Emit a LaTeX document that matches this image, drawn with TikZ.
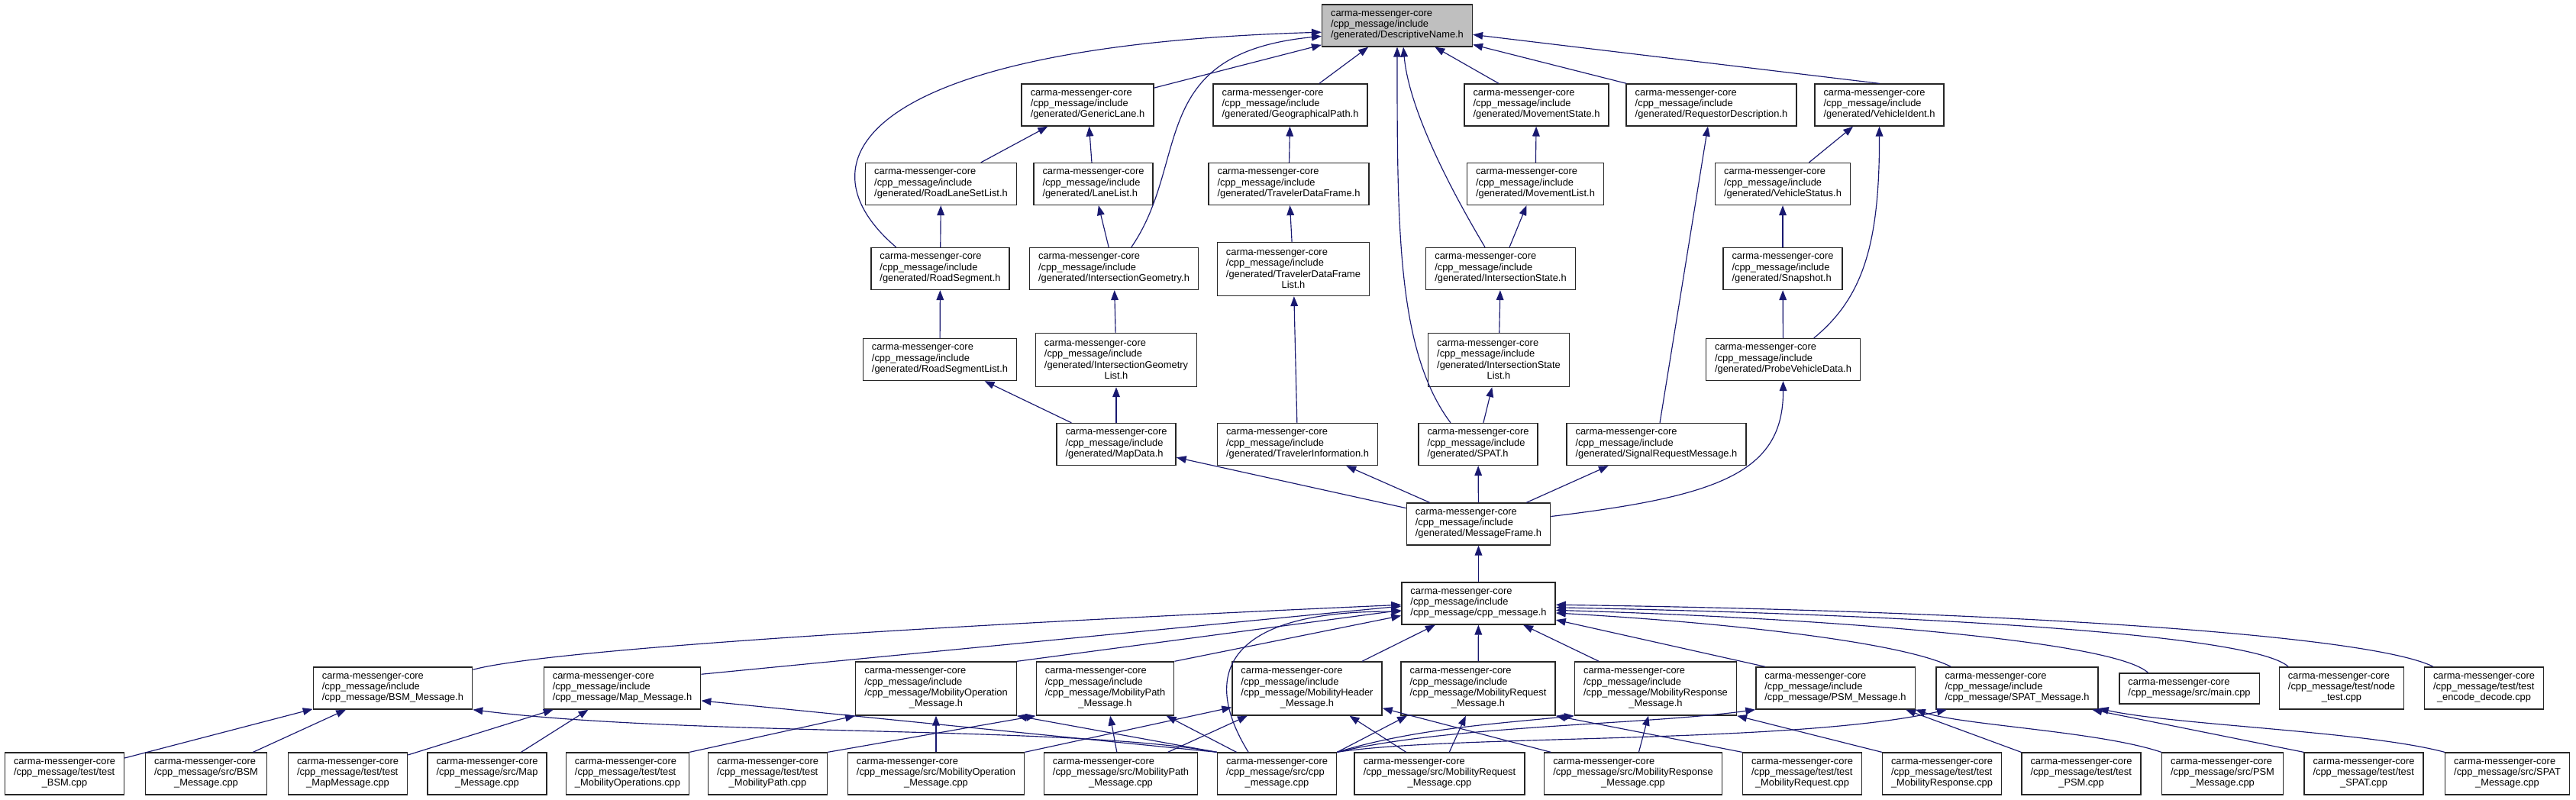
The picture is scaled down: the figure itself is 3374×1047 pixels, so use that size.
\documentclass[tikz,border=0pt]{standalone}
\usepackage{fontspec}
\setmainfont{Liberation Sans}
\usepackage{xcolor}
\usepackage{tikz}
\usetikzlibrary{arrows.meta}
\definecolor{edgeblue}{HTML}{191970}

\begin{document}
\begin{tikzpicture}[
    x=0.7772pt, y=-0.7772pt,
    hdr/.style={draw=black!85, line width=1.1pt, fill=white, align=left, inner xsep=9pt, inner ysep=2pt, minimum height=42.7pt, font=\fontsize{10pt}{11.1pt}\selectfont},
    hdrtall/.style={hdr, minimum height=54.4pt},
    hdrshort/.style={hdr, minimum height=31.1pt},
    focus/.style={hdr, fill=gray!50},
    incl/.style={-{Triangle[length=10pt, width=7.5pt]}, draw=edgeblue, line width=0.9pt}
]
\fill[white] (0,0) rectangle (3374,1047);
\useasboundingbox (0,0) rectangle (3374,1047);

% generated headers
\node[focus] (dn) at (1830,33.5) {carma-messenger-core\\/cpp\_message/include\\/generated/DescriptiveName.h};
\node[hdr] (genericlane) at (1424.5,137.5) {carma-messenger-core\\/cpp\_message/include\\/generated/GenericLane.h};
\node[hdr] (geopath) at (1690,137.5) {carma-messenger-core\\/cpp\_message/include\\/generated/GeographicalPath.h};
\node[hdr] (movestate) at (2012.5,137.5) {carma-messenger-core\\/cpp\_message/include\\/generated/MovementState.h};
\node[hdr] (reqdesc) at (2241.5,137.5) {carma-messenger-core\\/cpp\_message/include\\/generated/RequestorDescription.h};
\node[hdr] (vehident) at (2461.5,137.5) {carma-messenger-core\\/cpp\_message/include\\/generated/VehicleIdent.h};
\node[hdr] (roadlaneset) at (1232.5,241) {carma-messenger-core\\/cpp\_message/include\\/generated/RoadLaneSetList.h};
\node[hdr] (lanelist) at (1432,241) {carma-messenger-core\\/cpp\_message/include\\/generated/LaneList.h};
\node[hdr] (travdf) at (1688,241) {carma-messenger-core\\/cpp\_message/include\\/generated/TravelerDataFrame.h};
\node[hdr] (movelist) at (2011,241) {carma-messenger-core\\/cpp\_message/include\\/generated/MovementList.h};
\node[hdr] (vehstatus) at (2335,241) {carma-messenger-core\\/cpp\_message/include\\/generated/VehicleStatus.h};
\node[hdr] (roadseg) at (1231.5,352) {carma-messenger-core\\/cpp\_message/include\\/generated/RoadSegment.h};
\node[hdr] (intgeom) at (1459,352) {carma-messenger-core\\/cpp\_message/include\\/generated/IntersectionGeometry.h};
\node[hdrtall] (travdflist) at (1694,352.5) {carma-messenger-core\\/cpp\_message/include\\/generated/TravelerDataFrame\\\hfill List.h\hfill\null};
\node[hdr] (intstate) at (1965.5,352) {carma-messenger-core\\/cpp\_message/include\\/generated/IntersectionState.h};
\node[hdr] (snapshot) at (2335,352) {carma-messenger-core\\/cpp\_message/include\\/generated/Snapshot.h};
\node[hdr] (roadseglist) at (1231,471) {carma-messenger-core\\/cpp\_message/include\\/generated/RoadSegmentList.h};
\node[hdrtall] (intgeomlist) at (1462,471.5) {carma-messenger-core\\/cpp\_message/include\\/generated/IntersectionGeometry\\\hfill List.h\hfill\null};
\node[hdrtall] (intstatelist) at (1963,471.5) {carma-messenger-core\\/cpp\_message/include\\/generated/IntersectionState\\\hfill List.h\hfill\null};
\node[hdr] (probe) at (2335.5,471) {carma-messenger-core\\/cpp\_message/include\\/generated/ProbeVehicleData.h};
\node[hdr] (mapdata) at (1462,582) {carma-messenger-core\\/cpp\_message/include\\/generated/MapData.h};
\node[hdr] (travinfo) at (1699.5,582) {carma-messenger-core\\/cpp\_message/include\\/generated/TravelerInformation.h};
\node[hdr] (spat) at (1936,582) {carma-messenger-core\\/cpp\_message/include\\/generated/SPAT.h};
\node[hdr] (sigreq) at (2169.5,582) {carma-messenger-core\\/cpp\_message/include\\/generated/SignalRequestMessage.h};
\node[hdr] (msgframe) at (1936.5,686.5) {carma-messenger-core\\/cpp\_message/include\\/generated/MessageFrame.h};
\node[hdr] (cpph) at (1936.5,790.5) {carma-messenger-core\\/cpp\_message/include\\/cpp\_message/cpp\_message.h};

% message headers
\node[hdr] (bsmh) at (514.5,901.5) {carma-messenger-core\\/cpp\_message/include\\/cpp\_message/BSM\_Message.h};
\node[hdr] (maph) at (815,901.5) {carma-messenger-core\\/cpp\_message/include\\/cpp\_message/Map\_Message.h};
\node[hdrtall] (mobopsh) at (1226,902) {carma-messenger-core\\/cpp\_message/include\\/cpp\_message/MobilityOperation\\\hfill\_Message.h\hfill\null};
\node[hdrtall] (mobpathh) at (1447.5,902) {carma-messenger-core\\/cpp\_message/include\\/cpp\_message/MobilityPath\\\hfill\_Message.h\hfill\null};
\node[hdrtall] (mobheadh) at (1712,902) {carma-messenger-core\\/cpp\_message/include\\/cpp\_message/MobilityHeader\\\hfill\_Message.h\hfill\null};
\node[hdrtall] (mobreqh) at (1936,902) {carma-messenger-core\\/cpp\_message/include\\/cpp\_message/MobilityRequest\\\hfill\_Message.h\hfill\null};
\node[hdrtall] (mobresph) at (2168.5,902) {carma-messenger-core\\/cpp\_message/include\\/cpp\_message/MobilityResponse\\\hfill\_Message.h\hfill\null};
\node[hdr] (psmh) at (2404,901.5) {carma-messenger-core\\/cpp\_message/include\\/cpp\_message/PSM\_Message.h};
\node[hdr] (spath) at (2642,901.5) {carma-messenger-core\\/cpp\_message/include\\/cpp\_message/SPAT\_Message.h};
\node[hdrshort] (maincpp) at (2867.5,902) {carma-messenger-core\\/cpp\_message/src/main.cpp};
\node[hdr] (nodetest) at (3067,901.5) {carma-messenger-core\\/cpp\_message/test/node\\\hfill\_test.cpp\hfill\null};
\node[hdr] (encdec) at (3253.5,901.5) {carma-messenger-core\\/cpp\_message/test/test\\\hfill\_encode\_decode.cpp\hfill\null};

% sources and tests
\node[hdr] (testbsm) at (84.5,1013.5) {carma-messenger-core\\/cpp\_message/test/test\\\hfill\_BSM.cpp\hfill\null};
\node[hdr] (bsmcpp) at (270,1013.5) {carma-messenger-core\\/cpp\_message/src/BSM\\\hfill\_Message.cpp\hfill\null};
\node[hdr] (testmap) at (455.5,1013.5) {carma-messenger-core\\/cpp\_message/test/test\\\hfill\_MapMessage.cpp\hfill\null};
\node[hdr] (mapcpp) at (638,1013.5) {carma-messenger-core\\/cpp\_message/src/Map\\\hfill\_Message.cpp\hfill\null};
\node[hdr] (testmobops) at (822,1013.5) {carma-messenger-core\\/cpp\_message/test/test\\\hfill\_MobilityOperations.cpp\hfill\null};
\node[hdr] (testmobpath) at (1005.5,1013.5) {carma-messenger-core\\/cpp\_message/test/test\\\hfill\_MobilityPath.cpp\hfill\null};
\node[hdr] (mobopscpp) at (1226,1013.5) {carma-messenger-core\\/cpp\_message/src/MobilityOperation\\\hfill\_Message.cpp\hfill\null};
\node[hdr] (mobpathcpp) at (1468,1013.5) {carma-messenger-core\\/cpp\_message/src/MobilityPath\\\hfill\_Message.cpp\hfill\null};
\node[hdr] (cppcpp) at (1672.5,1013.5) {carma-messenger-core\\/cpp\_message/src/cpp\\\hfill\_message.cpp\hfill\null};
\node[hdr] (mobreqcpp) at (1885.5,1013.5) {carma-messenger-core\\/cpp\_message/src/MobilityRequest\\\hfill\_Message.cpp\hfill\null};
\node[hdr] (mobrespcpp) at (2139,1013.5) {carma-messenger-core\\/cpp\_message/src/MobilityResponse\\\hfill\_Message.cpp\hfill\null};
\node[hdr] (testmobreq) at (2360.5,1013.5) {carma-messenger-core\\/cpp\_message/test/test\\\hfill\_MobilityRequest.cpp\hfill\null};
\node[hdr] (testmobresp) at (2543.5,1013.5) {carma-messenger-core\\/cpp\_message/test/test\\\hfill\_MobilityResponse.cpp\hfill\null};
\node[hdr] (testpsm) at (2726,1013.5) {carma-messenger-core\\/cpp\_message/test/test\\\hfill\_PSM.cpp\hfill\null};
\node[hdr] (psmcpp) at (2911,1013.5) {carma-messenger-core\\/cpp\_message/src/PSM\\\hfill\_Message.cpp\hfill\null};
\node[hdr] (testspat) at (3096,1013.5) {carma-messenger-core\\/cpp\_message/test/test\\\hfill\_SPAT.cpp\hfill\null};
\node[hdr] (spatcpp) at (3284,1013.5) {carma-messenger-core\\/cpp\_message/src/SPAT\\\hfill\_Message.cpp\hfill\null};

% includes of DescriptiveName.h
\draw[incl] (genericlane) -- (dn);
\draw[incl] (geopath) -- (dn);
\draw[incl] (movestate) -- (dn);
\draw[incl] (reqdesc) -- (dn);
\draw[incl] (vehident.north) -- (dn);
\draw[incl] (roadseg.154) .. controls (1040,210) and (1130,60) .. (dn.185);
\draw[incl] (intgeom.51) .. controls (1560,210) and (1500,70) .. (dn.188);
\draw[incl] (intstate.126) .. controls (1895,240) and (1845,140) .. (dn.286);
\draw[incl] (spat.142) .. controls (1830,460) and (1830,300) .. (dn.south);

% generated chain
\draw[incl] (roadlaneset) -- (genericlane);
\draw[incl] (lanelist) -- (genericlane);
\draw[incl] (travdf) -- (geopath);
\draw[incl] (movelist) -- (movestate);
\draw[incl] (sigreq) -- (reqdesc);
\draw[incl] (vehstatus) -- (vehident);
\draw[incl] (probe.35) .. controls (2440,390) and (2462,320) .. (vehident.south);
\draw[incl] (roadseg) -- (roadlaneset);
\draw[incl] (intgeom) -- (lanelist);
\draw[incl] (travdflist) -- (travdf);
\draw[incl] (intstate) -- (movelist);
\draw[incl] (snapshot) -- (vehstatus);
\draw[incl] (roadseglist) -- (roadseg);
\draw[incl] (intgeomlist) -- (intgeom);
\draw[incl] (travinfo) -- (travdflist);
\draw[incl] (intstatelist) -- (intstate);
\draw[incl] (probe) -- (snapshot);
\draw[incl] (mapdata) -- (roadseglist);
\draw[incl] (mapdata) -- (intgeomlist);
\draw[incl] (spat) -- (intstatelist);
\draw[incl] (msgframe) -- (mapdata);
\draw[incl] (msgframe) -- (travinfo);
\draw[incl] (msgframe) -- (spat);
\draw[incl] (msgframe) -- (sigreq);
\draw[incl] (msgframe.6) .. controls (2250,650) and (2336,620) .. (probe.south);
\draw[incl] (cpph) -- (msgframe);

% includes of cpp_message.h
\draw[incl] (bsmh.13) .. controls (700,855) and (1100,825) .. (cpph.181);
\draw[incl] (maph.10) -- (cpph.182);
\draw[incl] (mobopsh.north east) -- (cpph.185);
\draw[incl] (cppcpp.143) .. controls (1570,880) and (1610,800) .. (cpph.186);
\draw[incl] (mobpathh.north east) -- (cpph.189);
\draw[incl] (mobheadh) -- (cpph);
\draw[incl] (mobreqh) -- (cpph);
\draw[incl] (mobresph) -- (cpph);
\draw[incl] (psmh.163) -- (cpph.-12);
\draw[incl] (spath.162) .. controls (2500,845) and (2300,818) .. (cpph.-7);
\draw[incl] (maincpp.159) .. controls (2770,840) and (2400,810) .. (cpph.-5);
\draw[incl] (nodetest.158) .. controls (2950,830) and (2500,805) .. (cpph.-3);
\draw[incl] (encdec.157) .. controls (3100,830) and (2600,800) .. (cpph.-1);

% sources and tests into message headers
\draw[incl] (testbsm) -- (bsmh);
\draw[incl] (bsmcpp) -- (bsmh);
\draw[incl] (cppcpp.north west) .. controls (1400,950) and (900,965) .. (bsmh.south east);
\draw[incl] (testmap) -- (maph);
\draw[incl] (mapcpp) -- (maph);
\draw[incl] (cppcpp.north west) -- (maph.-9);
\draw[incl] (testmobops.north east) -- (mobopsh.south west);
\draw[incl] (mobopscpp) -- (mobopsh);
\draw[incl] (cppcpp.north west) -- (mobopsh.south east);
\draw[incl] (testmobpath.north east) -- (mobpathh.south west);
\draw[incl] (mobpathcpp) -- (mobpathh);
\draw[incl] (cppcpp.152) -- (mobpathh.-24);
\draw[incl] (mobopscpp.north east) -- (mobheadh.194);
\draw[incl] (mobpathcpp) -- (mobheadh);
\draw[incl] (mobreqcpp) -- (mobheadh);
\draw[incl] (mobrespcpp) -- (mobheadh);
\draw[incl] (cppcpp.north east) -- (mobreqh.201);
\draw[incl] (mobreqcpp) -- (mobreqh);
\draw[incl] (testmobreq.north west) -- (mobreqh.south east);
\draw[incl] (cppcpp.north east) .. controls (1850,955) and (1960,948) .. (mobresph.south west);
\draw[incl] (mobrespcpp) -- (mobresph);
\draw[incl] (testmobresp.north west) -- (mobresph.south east);
\draw[incl] (cppcpp.north east) .. controls (1900,950) and (2150,950) .. (psmh.south west);
\draw[incl] (testpsm.north west) -- (psmh.-17);
\draw[incl] (psmcpp.north west) .. controls (2750,958) and (2570,950) .. (psmh.-15);
\draw[incl] (cppcpp.north east) .. controls (1900,962) and (2350,975) .. (spath.197);
\draw[incl] (testspat.north west) -- (spath.-16);
\draw[incl] (spatcpp.north west) .. controls (3100,958) and (2850,950) .. (spath.-14);
\end{tikzpicture}
\end{document}
